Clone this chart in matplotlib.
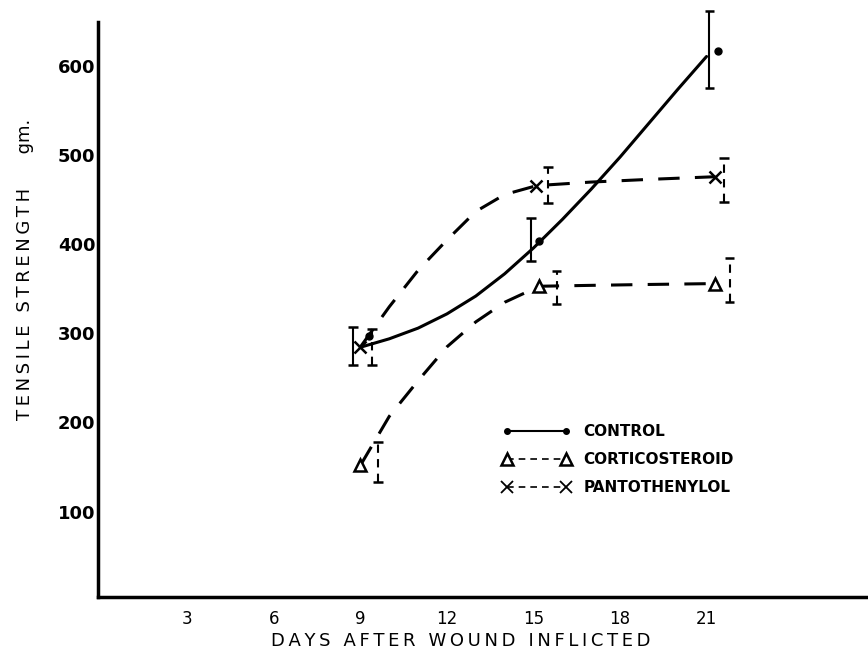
import numpy as np
import matplotlib.pyplot as plt
from matplotlib.lines import Line2D

# --- data ---
days_ticks = [3, 6, 9, 12, 15, 18, 21]
strength_ticks = [100, 200, 300, 400, 500, 600]

# plotted points
ctrl_days = [9.3, 15.2, 21.4]
ctrl_vals = [297, 404, 617]
cort_days = [9.0, 15.2, 21.3]
cort_vals = [152, 353, 356]
pant_days = [9.0, 15.1, 21.3]
pant_vals = [285, 466, 476]

# error bars (drawn a little beside the points in the original)
ctrl_err_days = [8.75, 14.9, 21.1]
ctrl_err_lo = [265, 381, 576]
ctrl_err_hi = [307, 430, 662]
cort_err_days = [9.6, 15.8, 21.8]
cort_err_lo = [133, 333, 335]
cort_err_hi = [178, 370, 385]
pant_err_days = [9.4, 15.5, 21.6]
pant_err_lo = [265, 447, 448]
pant_err_hi = [305, 487, 497]

# hand drawn trend curves
ctrl_curve_days = [9.05, 10, 11, 12, 13, 14, 15, 16, 17, 18, 19, 20, 21.0]
ctrl_curve_vals = [285, 294, 306, 322, 342, 367, 396, 428, 462, 498, 536, 574, 611]
cort_curve_days = [9.0, 10, 11, 12, 13, 14, 15, 15.2, 17, 19, 21.3]
cort_curve_vals = [152, 207, 247, 285, 313, 335, 350, 353, 354, 355, 356]
pant_curve_days = [9.0, 10, 11, 12, 13, 14, 15, 15.1, 17, 19, 21.3]
pant_curve_vals = [285, 330, 371, 405, 437, 456, 465, 466, 470, 473, 476]

THIN = '\u2009'


def spaced(s):
    # the original lettering is widely spaced
    return THIN.join(s)


fig = plt.figure(figsize=(8.68, 6.5), dpi=100)
ax = fig.add_axes([0.113, 0.0815, 0.887, 0.885])

ax.plot(ctrl_curve_days, ctrl_curve_vals, color='black', lw=2.2, solid_capstyle='round')
ax.plot(cort_curve_days, cort_curve_vals, color='black', lw=2.2, dashes=(7, 5))
ax.plot(pant_curve_days, pant_curve_vals, color='black', lw=2.2, dashes=(7, 5))

ax.plot(ctrl_days, ctrl_vals, 'o', color='black', ms=5, clip_on=False)
ax.plot(cort_days, cort_vals, '^', mfc='white', mec='black', mew=1.8, ms=8)
ax.plot(pant_days, pant_vals, 'x', color='black', mew=1.8, ms=8)


def err(xs, lo, hi, dashed):
    xs = np.array(xs)
    lo = np.array(lo)
    hi = np.array(hi)
    ax.vlines(xs, lo, hi, color='black', lw=1.5,
              linestyles=(0, (4, 3)) if dashed else 'solid', clip_on=False)
    ax.hlines(np.concatenate([lo, hi]), np.concatenate([xs, xs]) - 0.17,
              np.concatenate([xs, xs]) + 0.17, color='black', lw=1.8, clip_on=False)


err(ctrl_err_days, ctrl_err_lo, ctrl_err_hi, False)
err(cort_err_days, cort_err_lo, cort_err_hi, True)
err(pant_err_days, pant_err_lo, pant_err_hi, True)

ax.set_xlim(-0.1, 26.6)
ax.set_ylim(4, 650)
ax.set_xticks(days_ticks)
ax.set_xticklabels([str(d) for d in days_ticks], fontsize=12)
ax.set_yticks(strength_ticks)
ax.set_yticklabels([str(s) for s in strength_ticks], fontsize=13, fontweight='bold')
ax.tick_params(axis='x', length=0, pad=9)
ax.tick_params(axis='y', length=0, pad=2)

for s in ['top', 'right']:
    ax.spines[s].set_visible(False)
for s in ['left', 'bottom']:
    ax.spines[s].set_linewidth(2.5)

ax.set_xlabel(spaced('DAYS AFTER WOUND INFLICTED'), fontsize=13)
ax.xaxis.set_label_coords(0.471, -0.060)
ax.set_ylabel(spaced('TENSILE STRENGTH') + '      gm.', fontsize=13)
ax.yaxis.set_label_coords(-0.083, 0.57)

handles = [
    Line2D([], [], color='black', lw=1.5, marker='o', ms=4),
    Line2D([], [], color='black', lw=1.2, dashes=(4, 3), marker='^', ms=8,
           mfc='white', mec='black', mew=1.8),
    Line2D([], [], color='black', lw=1.2, dashes=(4, 3), marker='x', ms=8, mew=1.3),
]
ax.legend(handles, ['CONTROL', 'CORTICOSTEROID', 'PANTOTHENYLOL'],
          loc='upper left', bbox_to_anchor=(0.525, 0.300), frameon=False,
          numpoints=2, handlelength=4.45, handletextpad=0.85, labelspacing=0.85,
          borderpad=0, borderaxespad=0,
          prop={'size': 11, 'weight': 'bold'})

fig.savefig('out.png', dpi=100)
